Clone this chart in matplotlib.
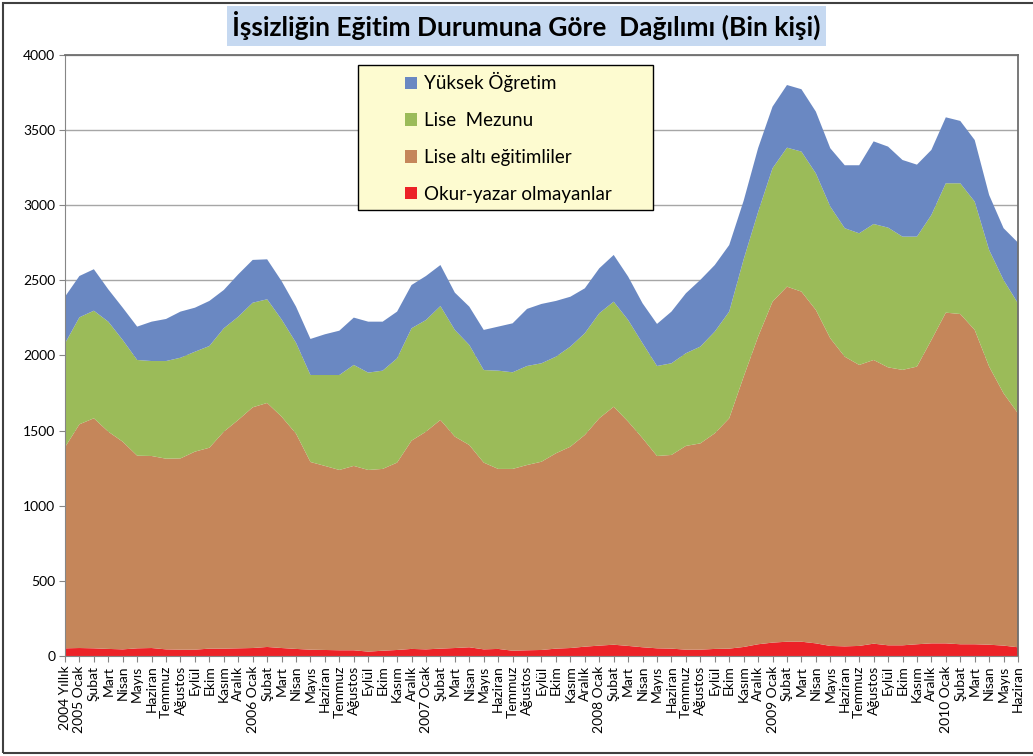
import matplotlib.pyplot as plt
from matplotlib.patches import Rectangle

plt.rcParams['font.family'] = ['Lato', 'DejaVu Sans']

months = ["Ocak", "Şubat", "Mart", "Nisan", "Mayıs", "Haziran",
          "Temmuz", "Ağustos", "Eylül", "Ekim", "Kasım", "Aralık"]
labels = ["2004 Yıllık"]
for yr in range(2005, 2010):
    labels += [f"{yr} Ocak"] + months[1:]
labels += ["2010 Ocak"] + months[1:6]

# bin kişi
okur_yazar_olmayan = [51, 53, 51, 47, 44, 51, 53, 44, 42, 42, 49, 49, 51,
                      53, 60, 53, 47, 42, 40, 38, 38, 29, 35, 40, 47,
                      44, 49, 53, 58, 44, 47, 35, 38, 40, 49, 53, 62,
                      69, 75, 67, 58, 51, 49, 42, 42, 47, 49, 60, 78,
                      89, 95, 95, 84, 67, 64, 67, 82, 71, 71, 78, 84,
                      84, 78, 78, 75, 69, 58]
lise_alti = [1338, 1489, 1531, 1446, 1382, 1282, 1278, 1269, 1273, 1318, 1337, 1444, 1520,
             1602, 1624, 1540, 1433, 1249, 1225, 1200, 1227, 1209, 1210, 1247, 1386,
             1449, 1522, 1407, 1346, 1243, 1198, 1210, 1233, 1253, 1300, 1340, 1409,
             1513, 1584, 1493, 1391, 1280, 1289, 1356, 1373, 1435, 1533, 1799, 2047,
             2269, 2363, 2330, 2219, 2047, 1928, 1870, 1888, 1850, 1833, 1848, 2019,
             2201, 2198, 2092, 1851, 1679, 1557]
lise_mezunu = [691, 712, 716, 732, 677, 637, 632, 650, 670, 665, 677, 688, 687,
               696, 690, 647, 605, 579, 605, 632, 672, 648, 654, 694, 748,
               743, 758, 710, 666, 616, 654, 643, 659, 655, 643, 666, 677,
               699, 699, 676, 632, 599, 610, 617, 644, 677, 710, 781, 830,
               888, 925, 932, 909, 877, 855, 876, 905, 930, 887, 865, 832,
               861, 870, 854, 776, 754, 732]
yuksek_ogretim = [311, 275, 276, 215, 215, 222, 262, 280, 307, 293, 300, 255, 282,
                  285, 266, 255, 240, 240, 271, 295, 315, 339, 326, 311, 288,
                  293, 273, 248, 255, 267, 293, 326, 380, 395, 371, 332, 299,
                  299, 311, 289, 266, 280, 344, 399, 444, 443, 443, 390, 425,
                  410, 417, 415, 411, 388, 419, 453, 550, 539, 510, 479, 433,
                  439, 415, 410, 366, 345, 404]

names = ["Okur-yazar olmayanlar", "Lise altı eğitimliler", "Lise  Mezunu", "Yüksek Öğretim"]
colors = ["#ec2227", "#c5865a", "#9bbb59", "#6a88c2"]

fig = plt.figure(figsize=(10.33, 7.56), dpi=100)
ax = fig.add_axes([0.0629, 0.1323, 0.9226, 0.795])

x = list(range(len(labels)))
polys = ax.stackplot(x, okur_yazar_olmayan, lise_alti, lise_mezunu, yuksek_ogretim,
                     colors=colors, labels=names, linewidth=0, zorder=2)

ax.set_xlim(0, len(labels) - 1)
ax.set_ylim(0, 4000)
ax.set_yticks(range(0, 4001, 500))
ax.set_xticks(x)
ax.set_xticklabels(labels, rotation=90, fontsize=10)
ax.tick_params(axis='y', labelsize=10, length=4, color='#868686', pad=3)
ax.tick_params(axis='x', length=4, color='#868686', pad=3)
ax.grid(axis='y', color='#a6a6a6', linewidth=1, zorder=0)
ax.set_axisbelow(True)
for s in ['left', 'bottom']:
    ax.spines[s].set_color('#868686')
for s in ['top', 'right']:
    ax.spines[s].set_color('#6e6e6e')
    ax.spines[s].set_linewidth(1.3)

fig.text(0.5097, 0.966, "İşsizliğin Eğitim Durumuna Göre  Dağılımı (Bin kişi)",
         ha='center', va='center', fontsize=19, fontweight='bold',
         bbox=dict(facecolor='#c6d9f1', edgecolor='none', pad=4))

# legend box
fig.patches.append(Rectangle((0.3466, 0.7222), 0.2856, 0.1918, transform=fig.transFigure,
                             facecolor='#fdfbd0', edgecolor='black', linewidth=1, zorder=5))
handles = polys[::-1]
leg = fig.legend(handles, names[::-1], loc='upper left', frameon=False,
                 bbox_to_anchor=(0.383, 0.9167), bbox_transform=fig.transFigure,
                 fontsize=13.5, handlelength=0.65, handleheight=0.65, handletextpad=0.35,
                 labelspacing=1.05, borderpad=0)
leg.set_zorder(6)

# outer chart border
fig.patches.append(Rectangle((0.003, 0.004), 1.0, 0.992, transform=fig.transFigure,
                             fill=False, edgecolor='#404040', linewidth=1.5))

fig.savefig("out.png", dpi=100)
